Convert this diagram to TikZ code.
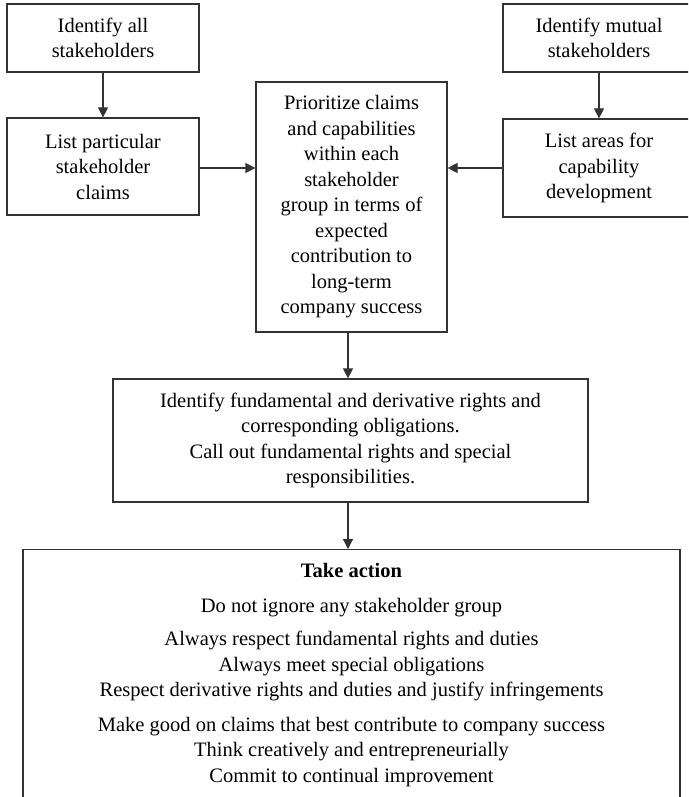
\documentclass[tikz,border=0pt]{standalone}
\usepackage{fontspec}
\setmainfont{Liberation Serif}
\usetikzlibrary{arrows.meta}
\begin{document}
\begin{tikzpicture}[x=1pt,y=-1pt,
  box/.style={draw=black!80, line width=1.2pt, align=center, inner sep=0pt,
    font=\fontsize{20.5}{25.5}\selectfont},
  arr/.style={draw=black!80, line width=1.2pt, -{Triangle[length=10pt,width=10pt]}}]
\useasboundingbox (0,0) rectangle (688,797);
\clip (0,0) rectangle (688,797);
\node[box, minimum width=192pt, minimum height=68pt] (A) at (103,38) {Identify all\\stakeholders};
\node[box, minimum width=192pt, minimum height=97pt] (B) at (103,166.5) {List particular\\stakeholder\\claims};
\node[box, minimum width=191pt, minimum height=250pt] (C) at (351.5,207) {Prioritize claims\\and capabilities\\within each\\stakeholder\\group in terms of\\expected\\contribution to\\long-term\\company success};
\node[box, minimum width=192pt, minimum height=68pt] (D) at (599,38) {Identify mutual\\stakeholders};
\node[box, minimum width=192pt, minimum height=98pt] (E) at (599,168) {List areas for\\capability\\development};
\node[box, minimum width=475pt, minimum height=123pt] (F) at (350.5,440.5) {Identify fundamental and derivative rights and\\corresponding obligations.\\Call out fundamental rights and special\\responsibilities.};
\node[box, minimum width=657pt, anchor=north, inner ysep=14pt] (G) at (351.5,549) {\textbf{Take action}\\[9pt]
Do not ignore any stakeholder group\\[8pt]
Always respect fundamental rights and duties\\
Always meet special obligations\\
Respect derivative rights and duties and justify infringements\\[9pt]
Make good on claims that best contribute to company success\\
Think creatively and entrepreneurially\\
Commit to continual improvement};
\draw[arr] (A) -- (B);
\draw[arr] (D) -- (E);
\draw[arr] (B.east |- 0,168) -- (C.west |- 0,168);
\draw[arr] (E.west |- 0,168) -- (C.east |- 0,168);
\draw[arr] (C.south -| 348,0) -- (F.north -| 348,0);
\draw[arr] (F.south -| 348,0) -- (G.north -| 348,0);
\end{tikzpicture}
\end{document}
